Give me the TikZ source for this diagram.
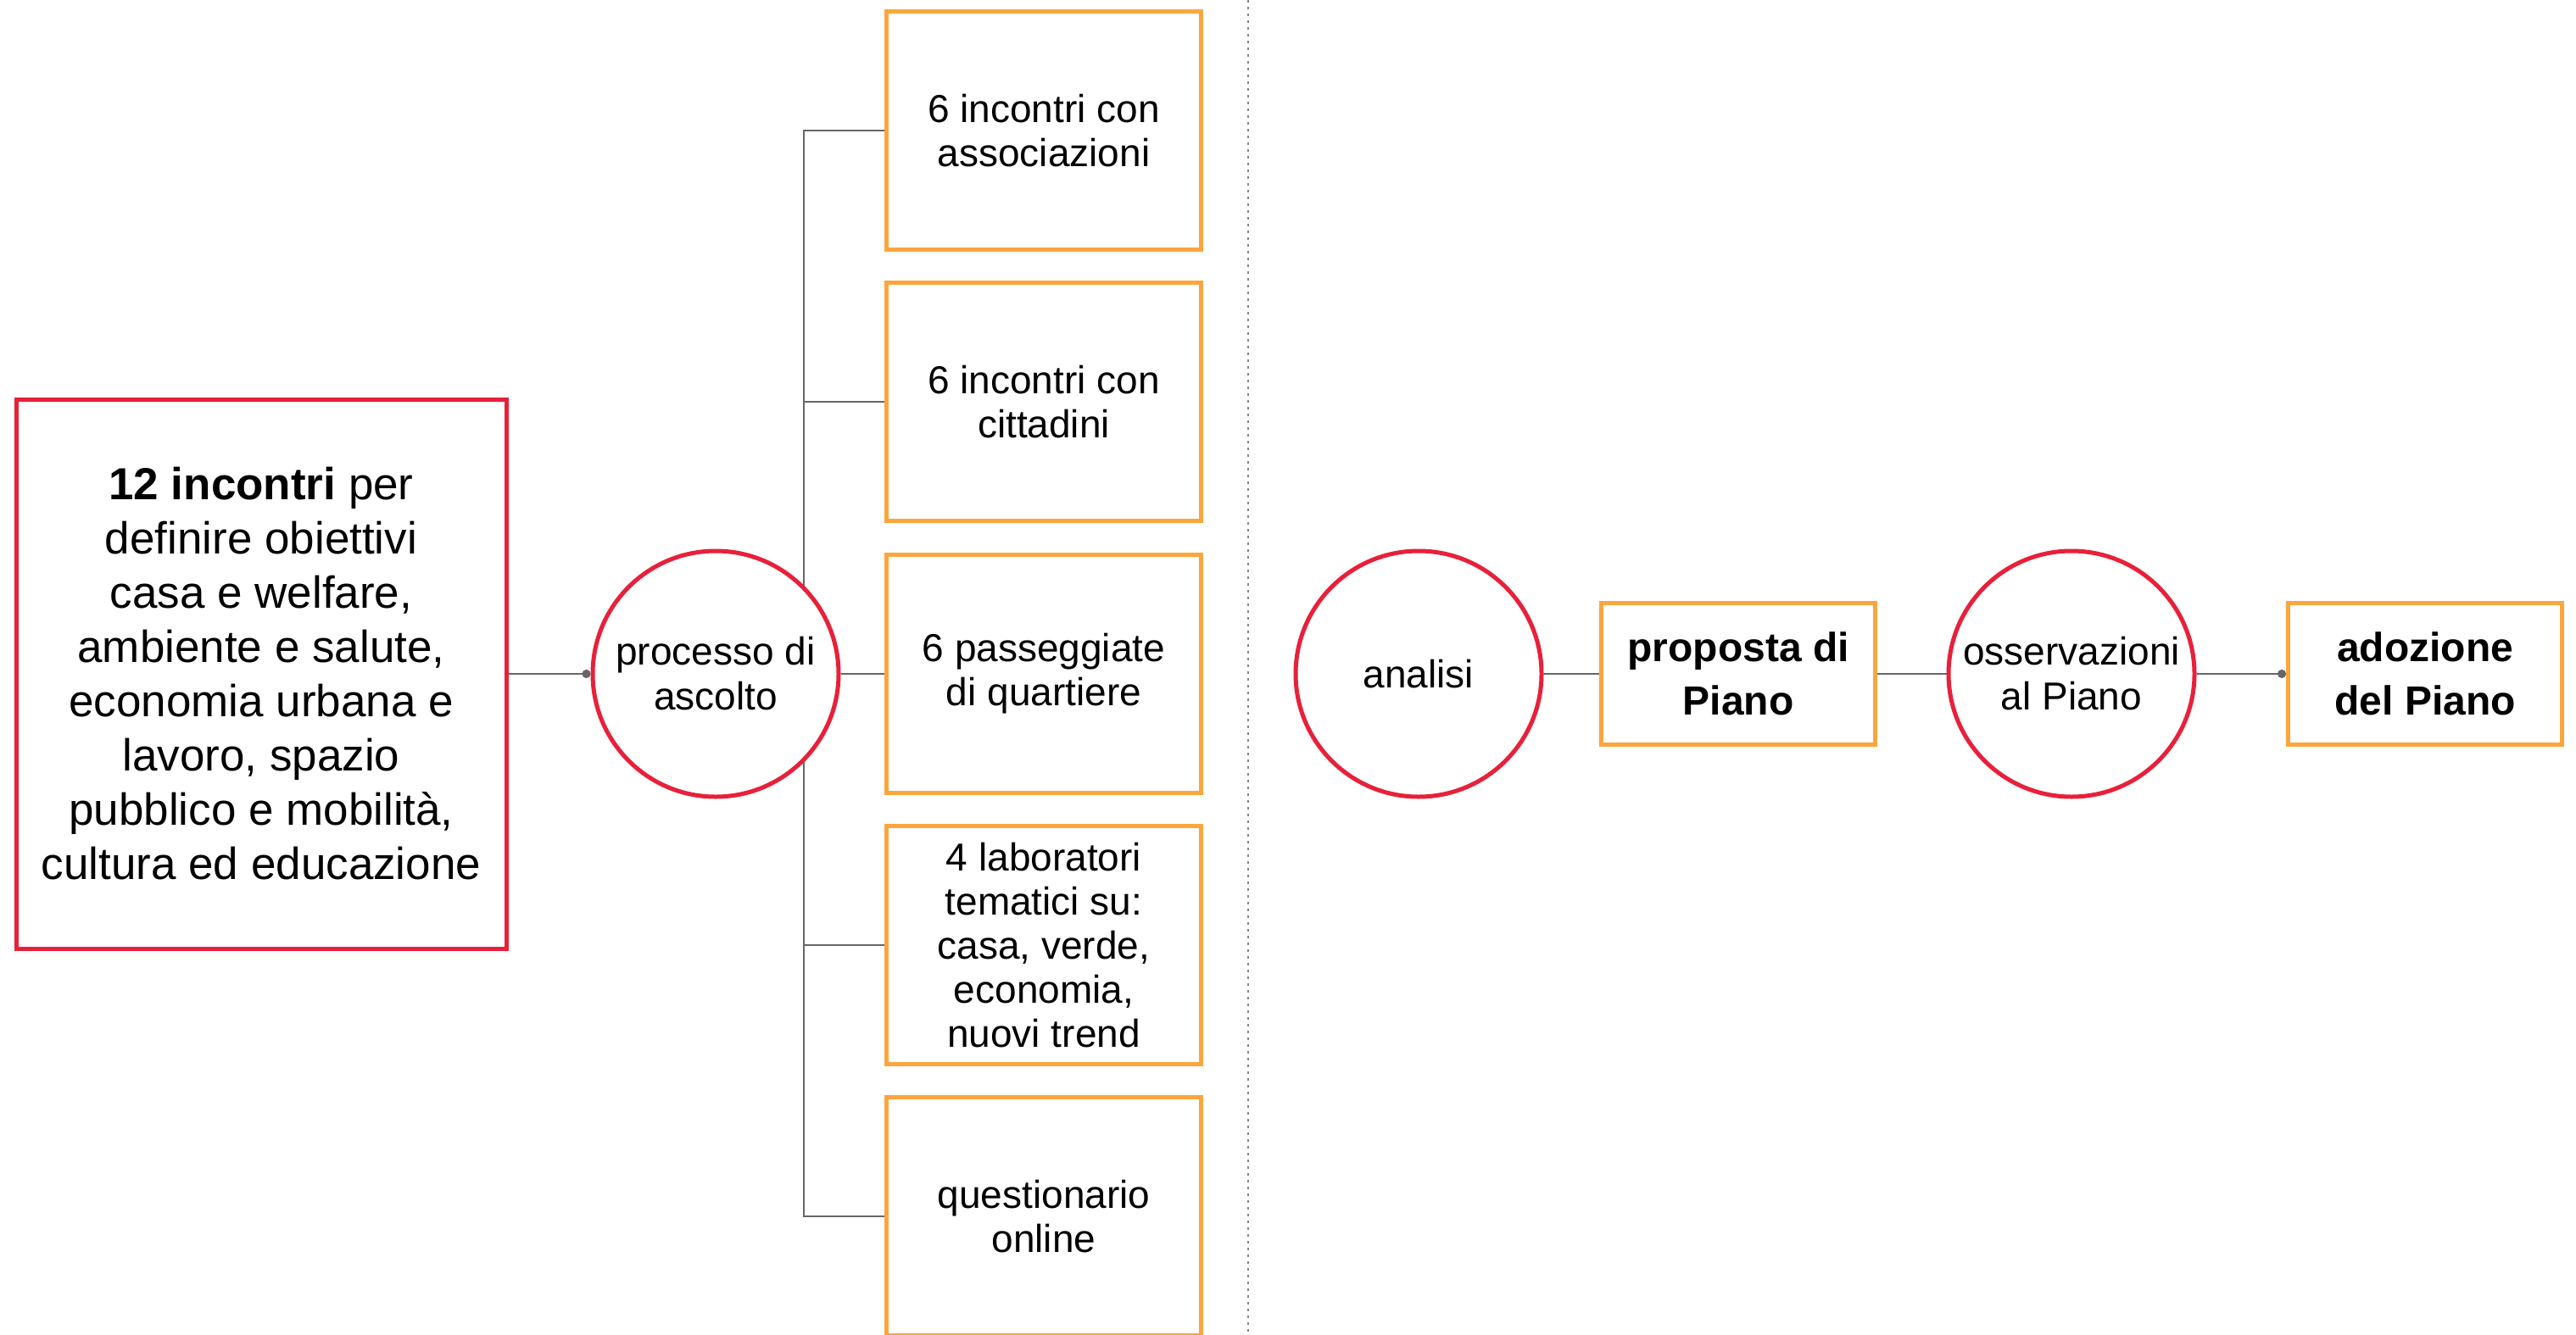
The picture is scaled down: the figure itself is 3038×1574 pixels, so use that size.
\documentclass[tikz,border=0pt]{standalone}
\usepackage{fontspec}
\setmainfont{Liberation Sans}
\usetikzlibrary{positioning,backgrounds,arrows.meta}
\definecolor{cred}{HTML}{E8203A}
\definecolor{corange}{HTML}{FBA63C}
\definecolor{cline}{HTML}{666666}

\tikzset{
  goalbox/.style={draw=cred, line width=5pt, fill=white, minimum width=578pt, minimum height=648pt, align=center, inner sep=0pt, font=\fontsize{53}{64}\selectfont},
  stage/.style={circle, draw=cred, line width=5pt, fill=white, minimum size=290pt, align=center, inner sep=0pt, font=\fontsize{46}{53}\selectfont},
  actbox/.style={draw=corange, line width=5pt, fill=white, minimum width=371pt, minimum height=281pt, align=center, inner sep=0pt, font=\fontsize{46}{52}\selectfont},
  stepbox/.style={draw=corange, line width=5pt, fill=white, minimum width=323pt, minimum height=167pt, align=center, inner sep=0pt, font=\bfseries\fontsize{48}{63}\selectfont},
  link/.style={draw=cline, line width=2.5pt},
  dotlink/.style={link, -{Circle[length=10pt]}},
}

\begin{document}
\begin{tikzpicture}[x=1pt, y=-1pt]
\useasboundingbox (0,0) rectangle (3038,1574);

% left part: meetings and listening process
\node[goalbox] (goal) at (308,795) {\textbf{12 incontri} per\\definire obiettivi\\casa e welfare,\\ambiente e salute,\\economia urbana e\\lavoro, spazio\\pubblico e mobilità,\\cultura ed educazione};
\node[stage] (proc) at (844,795) {processo di\\ascolto};
\node[actbox] (act1) at (1231,154) {6 incontri con\\associazioni};
\node[actbox] (act2) at (1231,474) {6 incontri con\\cittadini};
\node[actbox] (act3) at (1231,795) {6 passeggiate\\di quartiere};
\node[actbox] (act4) at (1231,1115) {4 laboratori\\tematici su:\\casa, verde,\\economia,\\nuovi trend};
\node[actbox] (act5) at (1231,1435) {questionario\\online};
\coordinate (trunk) at (948,0);

% separator
\coordinate (septop) at (1472,0);
\coordinate (sepbot) at (1472,1574);
\draw[cline!80, line width=2.5pt, dash pattern=on 2.5pt off 5.5pt] (septop) -- (sepbot);

% right part: steps of the plan
\node[stage] (anal) at (1673,795) {analisi};
\node[stepbox] (prop) at (2050,795) {proposta di\\Piano};
\node[stage] (oss) at (2443,795) {osservazioni\\al Piano};
\node[stepbox] (adoz) at (2860,795) {adozione\\del Piano};

\begin{scope}[on background layer]
\fill[white] (0,0) rectangle (3038,1574);
\draw[link] (act1.west) -- (act1.west -| trunk) -- (act5.west -| trunk) -- (act5.west);
\foreach \i in {2,4}
  \draw[link] (act\i.west -| trunk) -- (act\i.west);
\draw[link] (proc.east) -- (act3.west);
\draw[link] (anal.east) -- (prop.west);
\draw[link] (prop.east) -- (oss.west);
\end{scope}

\draw[dotlink] (goal.east) -- (proc.west);
\draw[dotlink] (oss.east) -- (adoz.west);
\end{tikzpicture}
\end{document}
